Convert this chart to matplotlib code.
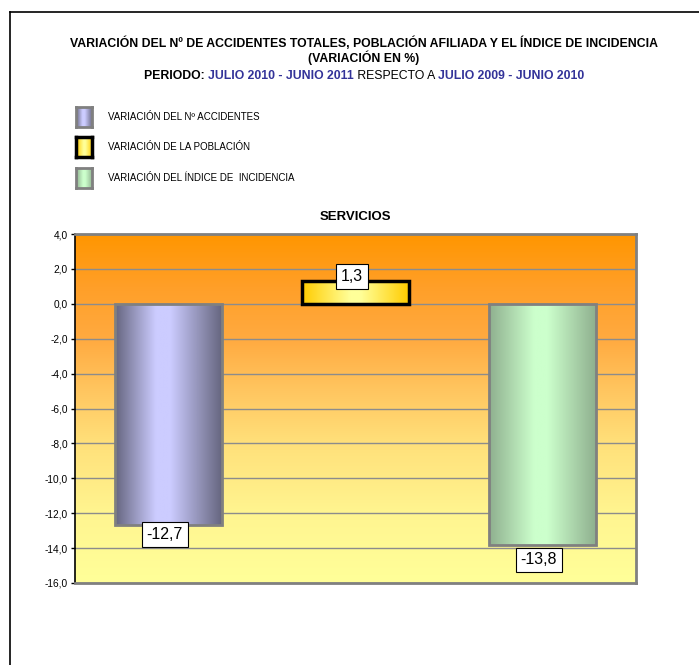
import numpy as np
import matplotlib
matplotlib.use("Agg")
import matplotlib.pyplot as plt
from matplotlib.colors import LinearSegmentedColormap
from matplotlib.lines import Line2D
from matplotlib.patches import Rectangle

plt.rcParams['font.family'] = ['Liberation Sans', 'DejaVu Sans']

# ---- data ----
categories = ["VARIACIÓN DEL Nº ACCIDENTES",
              "VARIACIÓN DE LA POBLACIÓN",
              "VARIACIÓN DEL ÍNDICE DE  INCIDENCIA"]
values = [-12.7, 1.3, -13.8]
labels = ["-12,7", "1,3", "-13,8"]
yticks = [4.0, 2.0, 0.0, -2.0, -4.0, -6.0, -8.0, -10.0, -12.0, -14.0, -16.0]
subtitle = "SERVICIOS"

# ---- styles ----
bar_grad = [[(0, "#666680"), (0.38, "#CCCCFF"), (0.52, "#CCCCFF"), (1, "#666680")],
            [(0, "#FFCC00"), (0.45, "#FFFF99"), (0.55, "#FFFF99"), (1, "#FFCC00")],
            [(0, "#8FB08F"), (0.42, "#CCFFCC"), (0.55, "#CCFFCC"), (1, "#8FB08F")]]
bar_edges = ["#808080", "#000000", "#808080"]
label_off = [-6.5, 3.5, -11]   # points from bar end
blue = "#333399"
title_cx = 364 / 699

fig = plt.figure(figsize=(6.99, 6.65), dpi=100)

# outer frame (only top and left visible)
fig.add_artist(Line2D([10/699, 10/699], [0, 1 - 12/665], color="black", lw=1.2))
fig.add_artist(Line2D([10/699, 1], [1 - 12/665, 1 - 12/665], color="black", lw=1.2))

# ---- titles ----
fig.text(title_cx, 1 - 43/665, "VARIACIÓN DEL Nº DE ACCIDENTES TOTALES, POBLACIÓN AFILIADA Y EL ÍNDICE DE INCIDENCIA",
         ha="center", va="center", fontsize=8.8, fontweight="bold")
fig.text(title_cx, 1 - 58/665, "(VARIACIÓN EN %)", ha="center", va="center", fontsize=8.8, fontweight="bold")

parts = [("PERIODO: ", "black", "bold"),
         ("JULIO 2010 - JUNIO 2011", blue, "bold"),
         (" RESPECTO A ", "black", "normal"),
         ("JULIO 2009 - JUNIO 2010", blue, "bold")]
renderer = fig.canvas.get_renderer()
texts = []
for s, c, w in parts:
    t = fig.text(0, 1 - 76/665, s, ha="left", va="center", fontsize=8.8, fontweight=w, color=c)
    texts.append(t)
widths = [t.get_window_extent(renderer).width for t in texts]
x = title_cx * 699 - sum(widths) / 2
for t, w in zip(texts, widths):
    t.set_x(x / 699)
    x += w

# ---- legend ----
leg_y = [117, 147, 178]
for name, grad, ec, y in zip(categories, bar_grad, bar_edges, leg_y):
    lax = fig.add_axes([76/699, 1 - (y + 10)/665, 16/699, 20/665])
    cm = LinearSegmentedColormap.from_list("g", grad)
    lax.imshow(np.linspace(0, 1, 64)[None, :], cmap=cm, aspect="auto", extent=[0, 1, 0, 1])
    lax.set_xticks([])
    lax.set_yticks([])
    for sp in lax.spines.values():
        sp.set_color(ec)
        sp.set_linewidth(2.5 if ec == "#000000" else 2)
    fig.text(108/699, 1 - y/665, name, ha="left", va="center", fontsize=7)

# ---- main axes ----
ax = fig.add_axes([75/699, 1 - 583/665, (636 - 75)/699, (583 - 234)/665])
bg = LinearSegmentedColormap.from_list(
    "bg", [(0, "#FFFF99"), (0.2, "#FFF590"), (0.4, "#FFE07A"), (0.55, "#FFC660"),
           (0.7, "#FFAA40"), (0.85, "#FF9F28"), (1, "#FF9600")])
ax.imshow(np.linspace(0, 1, 256)[:, None], cmap=bg, aspect="auto", origin="lower",
          extent=[0, 1, 0, 1], transform=ax.transAxes, zorder=0)

xpos = np.arange(len(values))
bars = ax.bar(xpos, values, width=0.57, zorder=3)
for b, grad, ec in zip(bars, bar_grad, bar_edges):
    b.set_facecolor("none")
    b.set_edgecolor(ec)
    b.set_linewidth(2.5 if ec == "#000000" else 2)
    cm = LinearSegmentedColormap.from_list("g", grad)
    x0, w = b.get_x(), b.get_width()
    y0, h = b.get_y(), b.get_height()
    im = ax.imshow(np.linspace(0, 1, 128)[None, :], cmap=cm, aspect="auto",
                   extent=[x0, x0 + w, y0, y0 + h], zorder=2)
    im.set_clip_path(Rectangle((x0, y0), w, h, transform=ax.transData))

ax.set_xlim(-0.5, len(values) - 0.5)
ax.set_ylim(-16, 4)
ax.set_yticks(yticks)
ax.set_yticklabels([f"{v:.1f}".replace(".", ",") for v in yticks], fontsize=7.3)
ax.set_xticks([])
ax.set_axisbelow(True)
ax.yaxis.grid(True, color="#8C8C8C", lw=1)
ax.tick_params(axis="y", length=3, width=1, pad=2)

for name, sp in ax.spines.items():
    sp.set_color("#808080")
    sp.set_linewidth(2)
    sp.set_zorder(5)
ax.spines["left"].set_color("#000000")
ax.spines["left"].set_linewidth(1.2)

ax.set_title(subtitle, fontsize=9.5, fontweight="bold", pad=10)

for b, v, lab, off in zip(bars, values, labels, label_off):
    ax.annotate(lab, (b.get_x() + b.get_width() / 2 - 0.02, v), xytext=(0, off),
                textcoords="offset points", ha="center", va="center", fontsize=11.5, zorder=6,
                bbox=dict(boxstyle="square,pad=0.3", fc="white", ec="black", lw=0.8))

fig.savefig("out.png", dpi=100)
